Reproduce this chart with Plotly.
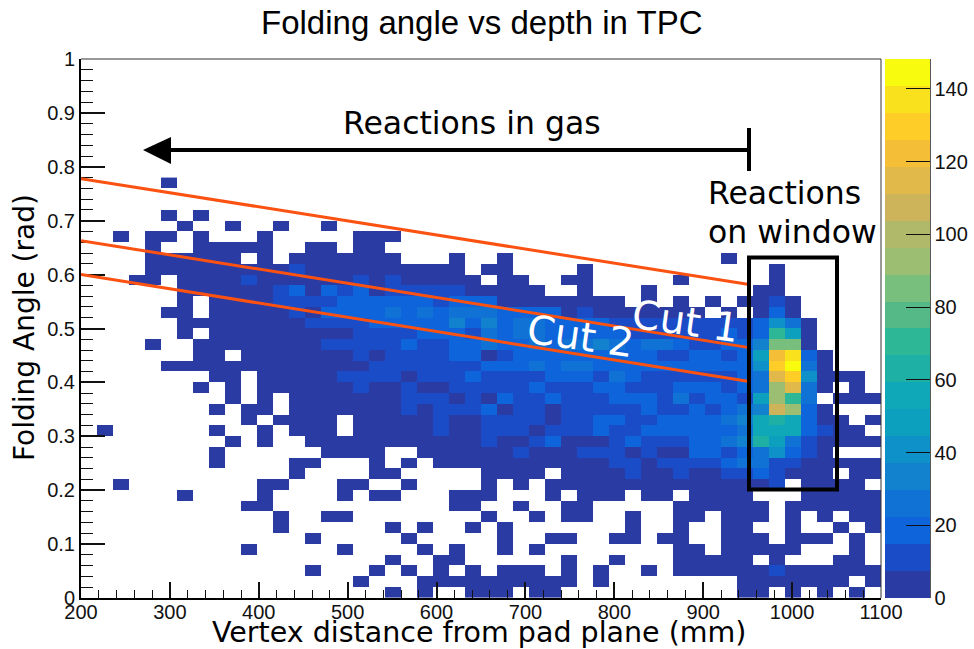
import plotly.graph_objects as go

W, H = 974, 649
L, R, T, B = 81, 881, 59, 598

X_START = 200
X_BIN = 18
Y_START = 0.0
Y_BIN = 0.02

counts = [
 [0,0,0,0,0,0,0,0,0,0, 0,0,0,0,0,0,0,0,0,4, 0,4,0,0,4,4,4,0,4,4, 0,0,0,0,0,0,0,0,0,0, 0,4,4,0,4,0,4,0,4,0],
 [0,0,0,0,0,0,0,0,0,0, 0,0,0,0,0,0,0,4,0,0, 0,4,4,4,4,4,4,4,4,4, 4,0,4,0,0,0,0,0,0,0, 0,4,4,4,4,4,4,4,0,4],
 [0,0,0,0,0,0,0,0,0,0, 0,0,0,0,4,0,0,0,4,0, 4,0,4,0,4,0,4,4,4,0, 4,0,4,0,0,4,0,4,4,4, 4,4,4,11,4,4,4,4,4,4],
 [0,0,0,0,0,0,0,0,0,0, 0,0,0,0,0,0,0,0,0,4, 0,0,4,4,0,0,0,0,0,0, 4,0,0,4,0,0,0,4,4,4, 4,4,0,4,0,0,0,4,4,0],
 [0,0,0,0,0,0,0,0,0,0, 4,0,0,0,0,0,4,0,0,0, 0,4,0,4,0,0,4,0,4,0, 0,0,0,0,0,0,0,4,4,0, 4,4,4,4,4,0,0,0,4,0],
 [0,0,0,0,0,0,0,0,0,0, 0,0,0,0,4,0,0,0,0,0, 4,0,0,0,0,0,4,0,0,4, 4,0,0,4,4,0,4,4,0,0, 4,4,4,0,4,4,4,0,4,0],
 [0,0,0,0,0,0,0,0,0,0, 0,0,4,0,0,0,0,0,0,4, 0,4,0,0,4,0,4,0,0,0, 0,0,0,0,4,0,0,4,0,0, 4,4,0,0,4,0,0,4,0,4],
 [0,0,0,0,0,0,0,0,0,0, 0,0,4,0,0,4,4,0,0,0, 0,0,0,0,0,4,0,0,4,0, 4,4,0,0,4,0,0,4,4,0, 4,4,4,0,4,0,4,0,4,4],
 [0,0,0,0,0,0,0,0,0,0, 4,4,0,0,0,0,0,0,0,0, 0,0,0,4,4,0,0,4,0,0, 4,4,0,0,0,0,0,4,4,4, 4,4,4,0,4,4,4,4,4,4],
 [0,0,0,0,0,0,4,0,0,0, 0,4,0,0,0,0,4,0,4,4, 0,0,0,4,4,4,0,0,0,4, 0,4,4,4,0,4,4,0,4,4, 4,4,0,0,0,4,4,4,4,4],
 [0,0,4,0,0,0,0,0,0,0, 0,4,4,0,0,0,4,4,0,0, 4,0,0,0,0,4,0,4,0,4, 4,4,4,4,4,4,4,4,4,4, 4,4,4,11,0,4,4,4,4,0],
 [0,0,0,0,0,0,0,0,0,0, 0,0,0,4,0,0,0,0,4,4, 0,0,0,0,0,4,4,4,4,0, 4,4,4,4,11,4,4,11,4,4, 11,11,19,11,4,4,4,0,4,4],
 [0,0,0,0,0,0,0,0,4,0, 0,0,0,4,4,0,0,0,4,0, 4,0,4,4,4,4,4,4,4,4, 4,4,4,11,11,4,11,11,11,11, 19,26,26,11,11,4,4,4,4,4],
 [0,0,0,0,0,0,0,0,4,0, 0,0,0,0,0,4,4,4,4,0, 0,4,4,4,4,4,4,11,4,4, 4,11,11,11,4,11,4,4,19,19, 11,19,26,41,19,11,4,0,0,0],
 [0,0,0,0,0,0,0,0,0,4, 0,4,0,0,4,4,4,4,4,4, 4,4,4,4,4,11,4,4,11,19, 4,4,4,11,19,11,11,11,19,19, 26,33,63,48,26,11,4,4,4,4],
 [0,4,0,0,0,0,0,0,4,0, 0,4,0,4,4,4,0,4,4,4, 4,4,11,4,4,11,11,11,4,11, 11,11,19,11,11,19,19,19,19,19, 19,26,55,55,55,19,11,4,4,0],
 [0,0,0,0,0,0,0,0,0,0, 4,0,4,4,4,4,0,4,4,4, 4,4,11,4,4,11,11,11,11,4, 11,11,19,19,11,11,19,19,19,19, 26,33,55,63,55,19,4,4,0,4],
 [0,0,0,0,0,0,0,0,4,0, 4,4,0,4,4,4,4,4,4,4, 11,4,11,11,11,19,4,11,11,4, 11,11,11,11,11,19,11,11,19,11, 19,26,33,107,92,19,4,0,0,0],
 [0,0,0,0,0,0,0,0,0,4, 0,4,0,4,4,4,4,4,4,4, 11,11,11,4,11,4,19,11,11,19, 11,11,11,19,19,19,11,26,11,19, 19,11,48,92,70,26,0,4,4,4],
 [0,0,0,0,0,0,0,4,0,4, 0,4,4,4,4,4,4,11,4,4, 11,4,4,11,11,11,11,11,19,11, 11,11,19,19,11,11,11,19,19,19, 11,19,26,92,115,26,4,0,4,0],
 [0,0,0,0,0,0,0,0,4,4, 0,4,4,4,4,4,11,11,11,11, 4,11,11,11,19,11,11,11,11,19, 19,19,11,26,19,11,11,11,11,11, 11,19,26,115,129,41,4,4,4,0],
 [0,0,0,0,0,4,4,4,4,4, 4,4,4,4,4,4,4,4,11,11, 11,11,11,11,11,19,19,19,26,19, 26,26,19,19,19,19,19,19,19,19, 19,19,41,129,145,26,4,0,0,0],
 [0,0,0,0,0,0,0,4,4,0, 4,4,4,4,4,4,4,11,4,11, 11,11,11,19,19,4,11,19,19,19, 19,19,19,19,19,19,11,11,19,19, 11,19,48,122,137,19,4,0,0,0],
 [0,0,0,0,4,0,0,4,4,4, 4,4,4,4,4,11,11,11,11,11, 19,11,11,19,19,26,19,19,26,19, 26,26,33,26,19,26,26,19,11,11, 19,19,33,85,85,4,0,0,0,0],
 [0,0,0,0,0,0,4,0,4,4, 4,4,4,4,4,4,4,11,11,11, 11,19,19,19,11,26,19,26,26,19, 19,19,19,19,11,11,11,11,11,11, 19,11,19,70,48,4,0,0,0,0],
 [0,0,0,0,0,0,4,4,4,4, 4,4,4,4,11,11,11,11,19,19, 19,19,19,33,19,33,19,26,26,19, 19,19,19,11,11,11,11,11,11,11, 11,11,19,41,26,4,0,0,0,0],
 [0,0,0,0,0,4,4,0,4,4, 4,4,4,11,4,19,19,19,19,26, 19,26,19,26,26,26,19,19,19,19, 4,11,4,4,4,4,4,4,4,0, 4,0,4,19,4,0,0,0,0,0],
 [0,0,0,0,0,0,4,0,4,4, 4,4,11,11,11,11,19,19,19,19, 19,19,11,19,19,19,4,4,4,4, 4,4,4,4,0,4,0,4,0,4, 0,4,4,11,4,0,0,0,0,0],
 [0,0,0,0,0,0,4,4,4,4, 4,4,11,19,4,19,11,19,4,11, 11,11,11,11,4,4,4,4,4,0, 0,4,0,0,0,4,0,0,0,0, 0,0,4,4,0,0,0,0,0,0],
 [0,0,0,4,4,0,4,4,4,4, 11,4,4,4,4,4,4,11,4,11, 4,4,4,4,4,0,4,4,0,0, 4,4,0,0,0,0,0,4,0,0, 0,0,0,4,0,0,0,0,0,0],
 [0,0,0,0,4,4,4,4,4,4, 4,4,4,11,4,4,4,4,4,4, 4,4,4,4,0,4,4,0,0,0, 0,4,0,0,0,0,0,0,0,0, 0,0,0,4,0,0,0,0,0,0],
 [0,0,0,0,4,4,4,4,4,4, 0,4,0,4,4,4,4,4,4,4, 0,0,0,4,0,0,4,0,0,0, 0,0,0,0,0,0,0,0,0,0, 4,0,0,0,0,0,0,0,0,0],
 [0,0,0,0,4,0,0,4,4,4, 4,4,0,0,4,4,0,4,4,0, 0,0,0,0,0,0,0,0,0,0, 0,0,0,0,0,0,0,0,0,0, 0,0,0,0,0,0,0,0,0,0],
 [0,0,4,0,4,4,0,4,0,0, 0,4,0,0,0,0,0,4,4,4, 0,0,0,0,0,0,0,0,0,0, 0,0,0,0,0,0,0,0,0,0, 0,0,0,0,0,0,0,0,0,0],
 [0,0,0,0,0,0,4,0,0,4, 0,0,4,0,0,4,0,0,0,0, 0,0,0,0,0,0,0,0,0,0, 0,0,0,0,0,0,0,0,0,0, 0,0,0,0,0,0,0,0,0,0],
 [0,0,0,0,0,4,0,4,0,0, 0,0,0,0,0,0,0,0,0,0, 0,0,0,0,0,0,0,0,0,0, 0,0,0,0,0,0,0,0,0,0, 0,0,0,0,0,0,0,0,0,0],
 [0] * 50,
 [0] * 50,
 [0,0,0,0,0,4,0,0,0,0, 0,0,0,0,0,0,0,0,0,0, 0,0,0,0,0,0,0,0,0,0, 0,0,0,0,0,0,0,0,0,0, 0,0,0,0,0,0,0,0,0,0],
]
for r in counts:
    assert len(r) == 50
z = [[v if v > 0 else None for v in r] for r in counts]

band_colors = [
 "#2a3ba3", "#1a4cc8", "#0e64da", "#1072d4", "#1282ce", "#0e91c8", "#0da0be", "#0fa8b8",
 "#1eafa5", "#2db796", "#55b987", "#78be7d", "#9bbe73", "#afb969", "#cdb45a", "#e1b94b",
 "#f5be37", "#ffcd28", "#fae11e", "#f9fb0e",
]
n = len(band_colors)
scale = []
for i, c in enumerate(band_colors):
    scale += [[i / n, c], [(i + 1) / n, c]]

def px(x):
    return (x - L) / (R - L)

def py(y):
    return (B - y) / (B - T)

fig = go.Figure(go.Heatmap(
    z=z, x0=X_START + X_BIN / 2, dx=X_BIN, y0=Y_START + Y_BIN / 2, dy=Y_BIN,
    colorscale=scale, zmin=0, zmax=148.2, hoverongaps=False, xgap=0, ygap=0,
    colorbar=dict(
        x=px(885), xanchor="left", xpad=0, y=0, yanchor="bottom", ypad=0, len=1,
        thickness=45, thicknessmode="pixels", outlinewidth=0,
        tickvals=[0, 20, 40, 60, 80, 100, 120, 140], ticks="inside", ticklen=24, tickwidth=1,
        tickcolor="#111111", tickfont=dict(family="Liberation Sans", size=20, color="#111111"),
    ),
))

def seg(x0, y0, x1, y1, color="black", width=4, xref="paper", yref="paper"):
    return dict(type="line", xref=xref, yref=yref, x0=x0, y0=y0, x1=x1, y1=y1,
                line=dict(color=color, width=width), layer="above")

ORANGE = "#fb5212"
shapes = [
    seg(200, 0.778, 950, 0.582, ORANGE, 3, "x", "y"),
    seg(200, 0.663, 950, 0.465, ORANGE, 3, "x", "y"),
    seg(200, 0.600, 950, 0.402, ORANGE, 3, "x", "y"),
    seg(px(170), py(150), px(749), py(150)),
    seg(px(749), py(128), px(749), py(171)),
    dict(type="path", xref="paper", yref="paper",
         path=f"M {px(143)} {py(150)} L {px(171)} {py(137)} L {px(171)} {py(164)} Z",
         fillcolor="black", line=dict(color="black", width=0)),
    dict(type="rect", xref="paper", yref="paper", x0=px(749), x1=px(837), y0=py(489.5), y1=py(257.5),
         line=dict(color="black", width=4)),
    seg(0, 1, 1, 1, "#333333", 1),
    seg(1, 0, 1, 1, "#333333", 1),
    seg(px(930), 0, px(930), 1, "#222222", 1.5),
]

def text(s, x, y, size, family="DejaVu Sans", color="black", angle=0, xanchor="center"):
    return dict(text=s, xref="paper", yref="paper", x=px(x), y=py(y), showarrow=False,
                font=dict(family=family, size=size, color=color), textangle=angle,
                xanchor=xanchor, yanchor="middle")

annotations = [
    text("Folding angle vs depth in TPC", 482, 23, 33, "Liberation Sans"),
    text("Vertex distance from pad plane (mm)", 479, 632, 28.5),
    text("Folding Angle (rad)", 24, 328, 28),
    text("Reactions in gas", 472, 123, 31.5),
    text("Reactions", 706, 193, 31.5, xanchor="left"),
    text("on window", 706, 232, 31.5, xanchor="left"),
    text("Cut 1", 685, 321, 40, color="white", angle=8),
    text("Cut 2", 580, 336, 40, color="white", angle=8),
]
annotations[2]["textangle"] = -90

fig.update_layout(
    width=W, height=H, paper_bgcolor="white", plot_bgcolor="white",
    margin=dict(l=L, r=W - R, t=T, b=H - B, autoexpand=False),
    shapes=shapes, annotations=annotations, showlegend=False,
    xaxis=dict(range=[200, 1100], tickvals=list(range(200, 1101, 100)), ticks="inside", ticklen=16,
               tickwidth=1.5, tickcolor="#111111", showgrid=False, zeroline=False, showline=True,
               linecolor="black", linewidth=2, ticklabelstandoff=-5,
               tickfont=dict(family="Liberation Sans", size=20, color="#111111"),
               minor=dict(dtick=20, ticks="inside", ticklen=8, tickwidth=1, tickcolor="#111111", showgrid=False)),
    yaxis=dict(range=[0, 1], tickvals=[0, .1, .2, .3, .4, .5, .6, .7, .8, .9, 1],
               ticktext=["0", "0.1", "0.2", "0.3", "0.4", "0.5", "0.6", "0.7", "0.8", "0.9", "1"],
               ticks="inside", ticklen=24, tickwidth=1.5, tickcolor="#111111", showgrid=False,
               zeroline=False, showline=True, linecolor="black", linewidth=2,
               tickfont=dict(family="Liberation Sans", size=20, color="#111111"),
               minor=dict(dtick=0.02, ticks="inside", ticklen=12, tickwidth=1, tickcolor="#111111", showgrid=False)),
)
fig.write_html("out.html", post_script="document.body.style.margin='0';",
               config={"displayModeBar": False})
